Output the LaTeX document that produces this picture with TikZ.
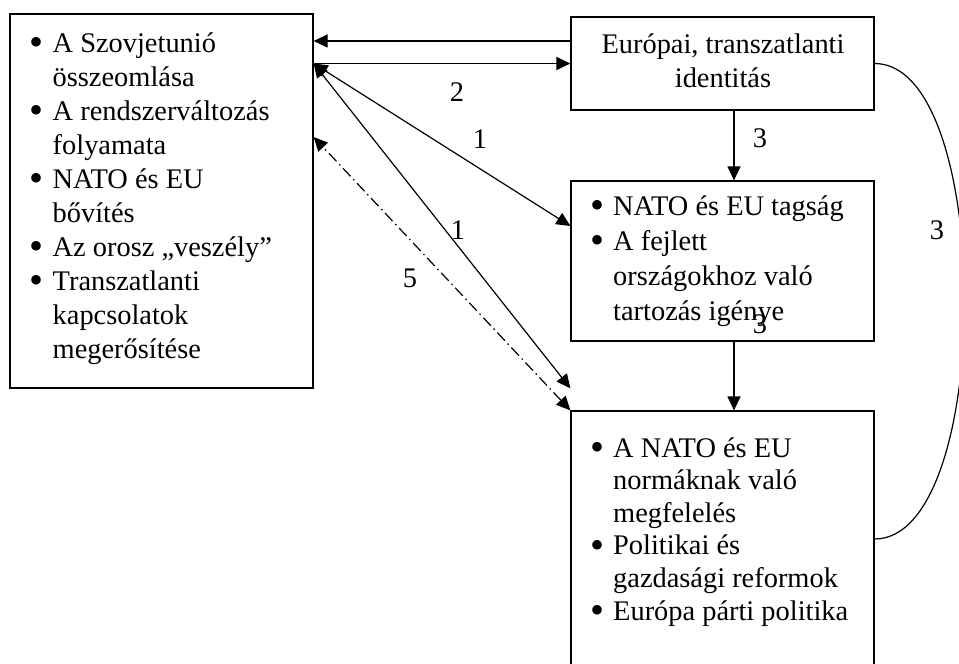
\documentclass[tikz,border=0pt]{standalone}
\usepackage{fontspec}
\setmainfont{Liberation Serif}
\usetikzlibrary{arrows.meta}

\newcommand{\bul}{\makebox[23pt][l]{\smash{\raisebox{-3.6pt}{\fontsize{40}{40}\selectfont\textbullet}}}}

\tikzset{
    box/.style={draw, line width=1.2pt, minimum width=303pt, inner sep=0pt},
    list/.style={anchor=base west, inner sep=0pt, font=\fontsize{28.4}{#1}\selectfont},
    num/.style={inner sep=0pt, font=\fontsize{28.4}{34}\selectfont},
    link/.style={line width=1.2pt, -{Triangle[length=14pt,width=13pt]}},
    both/.style={line width=1.2pt, {Triangle[length=14pt,width=13pt]}-{Triangle[length=14pt,width=13pt]}},
}

\begin{document}
\begin{tikzpicture}[x=1pt, y=-1pt]
    \useasboundingbox (0,0) rectangle (959,664);

    % Boxes
    \node[box, minimum height=374pt] (soviet) at (161.5, 201) {};
    \node[box, minimum height=93pt]  (ident)  at (722.5, 63.5) {};
    \node[box, minimum height=160pt] (tag)    at (722.5, 261) {};
    \node[box, minimum height=256pt] (norm)   at (722.5, 539) {};

    % Texts
    \node[list=34] (sovietText) at (29.5, 52) {\begin{tabular}[t]{@{}l@{}l@{}}
        \bul & A Szovjetunió\\
             & összeomlása\\
        \bul & A rendszerváltozás\\
             & folyamata\\
        \bul & NATO és EU\\
             & bővítés\\
        \bul & Az orosz „veszély”\\
        \bul & Transzatlanti\\
             & kapcsolatok\\
             & megerősítése
    \end{tabular}};

    \node[list=34, anchor=base] (identText) at (723, 53) {\begin{tabular}[t]{@{}c@{}}
        Európai, transzatlanti\\
        identitás
    \end{tabular}};

    \node[list=35] (tagText) at (590, 215) {\begin{tabular}[t]{@{}l@{}l@{}}
        \bul & NATO és EU tagság\\
        \bul & A fejlett\\
             & országokhoz való\\
             & tartozás igénye
    \end{tabular}};

    \node[list=32.6] (normText) at (590, 457) {\begin{tabular}[t]{@{}l@{}l@{}}
        \bul & A NATO és EU\\
             & normáknak való\\
             & megfelelés\\
        \bul & Politikai és\\
             & gazdasági reformok\\
        \bul & Európa párti politika
    \end{tabular}};

    % Connectors
    \coordinate (hub) at (soviet.east |- ident.west);

    \draw[link] ([yshift=22.5pt]ident.west) -- ([yshift=22.5pt]hub);
    \draw[link] (hub) -- (ident.west);
    \draw[both] (hub) -- ([yshift=35pt]tag.west);
    \draw[both] (hub) -- ([yshift=22pt]norm.north west);
    \draw[both, dash pattern=on 11pt off 4pt on 1.5pt off 4pt] (norm.north west) -- ([yshift=64pt]soviet.east);
    \draw[link] ([xshift=11.5pt]ident.south) -- ([xshift=11.5pt]tag.north);
    \draw[link] ([xshift=11.5pt]tag.south) -- ([xshift=11.5pt]norm.north);
    \draw[line width=1.2pt] (ident.east) .. controls +(120,0) and +(120,0) .. (norm.east);

    % Labeling
    \foreach \name/\pos/\txt in {lblA/{(457,92)}/2, lblB/{(480,139)}/1, lblC/{(458,230)}/1, lblD/{(410,278)}/5, lblE/{(760,138)}/3, lblF/{(760,324)}/3, lblG/{(937,230)}/3}
        \node[num] (\name) at \pos {\txt};
\end{tikzpicture}
\end{document}
